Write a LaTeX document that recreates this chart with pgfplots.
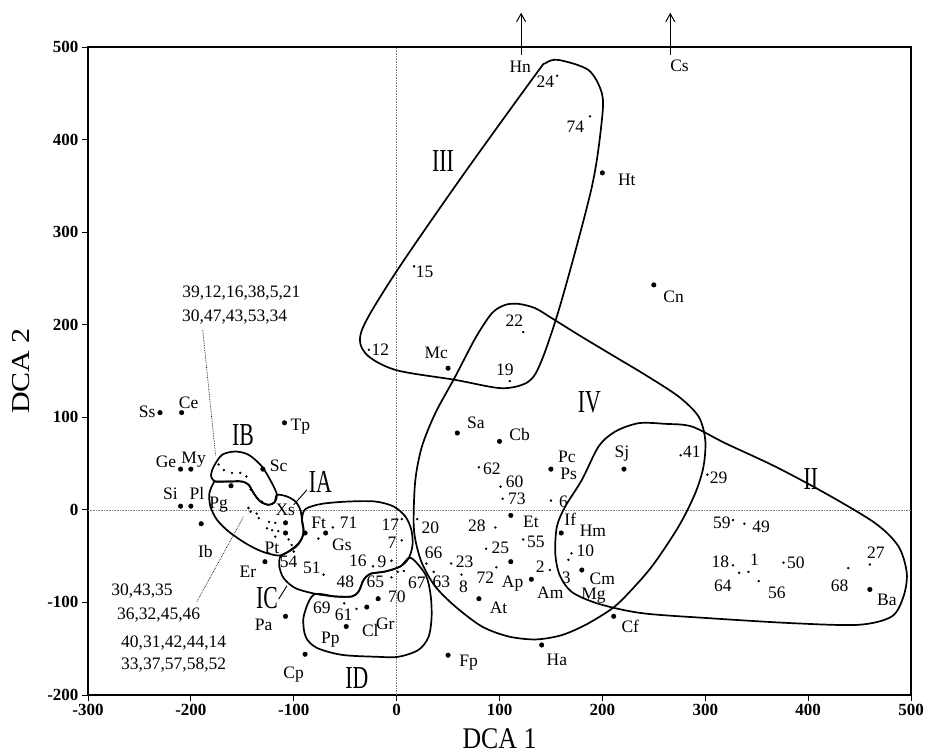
\documentclass[border=0pt]{standalone}
\usepackage{fontspec}
\setmainfont{Liberation Serif}
\usepackage{pgfplots}
\pgfplotsset{compat=1.18}
\usetikzlibrary{arrows.meta}
\newcommand{\lf}{\fontsize{17.5}{18}\selectfont}
\newcommand{\rf}{\fontsize{32}{32}\selectfont}
\newcommand{\lab}[3]{\node[font=\lf,inner sep=0pt] at (axis cs:#1,#2) {#3};}
\newcommand{\rom}[3]{\node[font=\rf,inner sep=0pt,xscale=0.68] at (axis cs:#1,#2) {#3};}
\begin{document}
\begin{tikzpicture}
\begin{axis}[
 scale only axis, width=823pt, height=648pt,
 xmin=-300, xmax=500, ymin=-200, ymax=500,
 xtick={-300,-200,...,500}, ytick={-200,-100,...,500},
 xtick pos=bottom, ytick pos=left, tick align=outside,
 major tick length=6pt,
 tick style={black, line width=0.9pt},
 axis line style={line width=1.1pt},
 /pgf/number format/assume math mode=true,
 ticklabel style={font=\fontsize{17}{17}\selectfont\bfseries},
 clip=false,
]
% zero lines
\addplot[densely dotted, line width=0.6pt, gray] coordinates {(0,-200) (0,500)};
\addplot[densely dotted, line width=0.6pt, gray] coordinates {(-300,0) (500,0)};

% envelopes
\addplot[smooth cycle, line width=1.7pt, black] coordinates {
(157.4,486) (186.6,475) (199.5,450) (199.5,421) (189.8,349) (160.6,227) (141.2,162) (128.3,138.6) (102.3,131.4) (57,140.4) (-1.3,151.2) (-30.4,169.2) (-33.7,194.4) (-1.3,255.6) (63.5,360) (134.8,469.8) (144.5,482.4)};
\addplot[smooth cycle, line width=1.7pt, black] coordinates {
(92.6,212.4) (105.6,221.4) (118.6,222.5) (134.8,217.8) (150.9,207.0) (176.9,189.0) (209.2,167.4) (241.7,145.8) (274.1,122.4) (293.5,100.8) (300.0,75.6) (298.3,46.8) (290.3,18.0) (274.1,-18.0) (248.1,-61.2) (222.3,-93.6) (207.7,-108.0) (183.4,-124.4) (160,-135.5) (135,-140) (108.8,-136.8) (82.9,-126.0) (57.0,-104.4) (37.6,-82.8) (24.6,-57.6) (18.2,-32.4) (16.5,-10.8) (18.2,32.4) (24.6,68.4) (37.6,104.4) (57.0,144.0) (76.5,185.4)};
\addplot[smooth cycle, line width=1.7pt, black] coordinates {
(180.1,32.4) (196.3,68.4) (212.5,84.6) (235.2,93.6) (261.1,92.9) (287.0,90.0) (319.4,72.0) (368.0,46.8) (416.6,18.0) (465.2,-14.4) (487.9,-39.6) (495.9,-68.4) (492.7,-93.6) (481.3,-115.2) (449.0,-124.2) (384.2,-122.4) (303.2,-117.0) (238.4,-111.6) (196.3,-101.5) (170.1,-88.6) (158.4,-70.2) (154.2,-46.8) (155.8,-18.0) (163.9,3.6)};
\addplot[smooth cycle, line width=1.7pt, black] coordinates {
(-180.1,39.6) (-177.8,46.8) (-169.8,59.4) (-156.8,63.0) (-143.8,59.4) (-130.9,46.8) (-121.2,28.8) (-116.3,16.2) (-118.6,8.3) (-124.4,5.4) (-132.5,9.0) (-139.0,18.0) (-143.8,27.0) (-150.3,30.6) (-163.3,30.6) (-176.2,30.6) (-180.1,35.3)};
\addplot[smooth cycle, line width=1.7pt, black] coordinates {
(-177.8,29.5) (-182.0,18.0) (-181.0,3.6) (-174.6,-10.8) (-163.3,-23.4) (-147.0,-36.0) (-130.9,-45.0) (-114.7,-49.4) (-105.0,-45.0) (-96.9,-38.9) (-92.0,-30.6) (-90.4,-21.6) (-92.0,-10.8) (-93.6,0) (-98.4,9.0) (-106.6,14.4) (-116.3,16.2) (-118.6,8.3) (-124.4,5.4) (-132.5,9.0) (-139.0,18.0) (-143.8,27.0) (-150.3,30.6) (-163.3,30.6) (-176.2,30.6)};
\addplot[smooth cycle, line width=1.7pt, black] coordinates {
(-113.0,-50.4) (-114.0,-61.2) (-109.8,-73.8) (-98.4,-84.6) (-79.0,-90.7) (-59.6,-93.6) (-43.4,-93.6) (-36.9,-88.2) (-32.1,-75.6) (-25.6,-69.1) (-11.0,-66.6) (3.6,-61.2) (11.7,-52.2) (15.5,-37.8) (14.3,-21.6) (8.5,-7.2) (-2.9,3.6) (-20.7,9.0) (-46.6,9.0) (-72.6,6.5) (-88.7,0.8) (-92.0,-10.8) (-90.4,-25.2) (-95.2,-36.0) (-105.0,-45.0)};
\addplot[smooth cycle, line width=1.7pt, black] coordinates {
(-80.7,-91.8) (-90.4,-115.6) (-88.4,-137.1) (-77.7,-149.0) (-53.4,-156.6) (-20.4,-158.7) (1.9,-158.7) (21.4,-151.2) (31.1,-137.1) (34.0,-115.6) (33.0,-91.8) (28.2,-70.2) (13.6,-51.8) (3.6,-61.2) (-11.0,-66.6) (-25.6,-69.1) (-32.1,-75.6) (-36.9,-88.2) (-43.7,-93.6) (-59.6,-93.6)};

% leader lines
\addplot[densely dotted, line width=0.7pt] coordinates {(-188.5,194.4) (-176,59)};
\addplot[densely dotted, line width=0.7pt] coordinates {(-194.1,-99.0) (-148.7,-7.2)};
\addplot[line width=0.9pt] coordinates {(-87.2,21.6) (-100.1,5.4)};
\addplot[line width=0.9pt] coordinates {(-106.6,-82.1) (-114.7,-96.4)};

% arrows for off-scale species
\addplot[line width=1pt, -{Straight Barb[length=8pt,width=9pt]}] coordinates {(121,491) (121,537)};
\addplot[line width=1pt, -{Straight Barb[length=8pt,width=9pt]}] coordinates {(266,491) (266,537)};

% species (stars)
\addplot[only marks, mark=*, mark size=2.3pt, black] coordinates {
(-230,105) (-209,105) (-109,94) (-210,44) (-200,44) (-130,44) (-210,4) (-200,4) (-161,26) (-190,-15)
(-108,-14) (-108,-25) (-89,-25) (-69,-25) (-128,-56) (-108,-115) (-89,-156) (-49,-126) (-29,-105) (-18,-96)
(50,-157) (141,-146) (80,-96) (111,-56) (131,-75) (180,-65) (211,-115) (160,-25) (111,-6) (150,44)
(59,83) (100,74) (50,153) (221,44) (460,-86) (200,364) (250,243)};

% samples (dots)
\addplot[only marks, mark=*, mark size=1pt, black] coordinates {
(156,469) (188,425) (17,263) (-27,173) (123,192) (110,139) (80,46) (101,25) (103,12) (150,10)
(96,-19) (123,-32) (87,-42) (53,-58) (97,-62) (63,-70) (149,-65) (170,-47) (167,-54)
(20,-10) (5,-10) (5,-33) (-23,-61) (-5,-55) (29,-58) (36,-67) (7,-66) (1,-67) (-5,-73)
(-51,-101) (-39,-107) (-71,-70) (-62,-19) (-76,-31)
(327,-11) (338,-15) (276,59) (302,38) (327,-60) (333,-68) (342,-67) (352,-77) (376,-57) (439,-63) (460,-59)
(-173,49) (-168,43) (-160,40) (-152,40) (-146,36) (-155,31) (-142,22) (-131,9) (-144,2) (-142,-2) (-136,-4)
(-134,-9) (-124,-13) (-118,-14) (-126,-20) (-121,-22) (-115,-23) (-118,-29) (-105,-32) (-102,-38) (-100,-45)};

% labels
\lab{-242.6}{106.2}{Ss}
\lab{-202.1}{115.2}{Ce}
\lab{-93.6}{90.0}{Tp}
\lab{-224.2}{52.2}{Ge}
\lab{-197.3}{54.0}{My}
\lab{-114.7}{47.5}{Sc}
\lab{-219.9}{17.3}{Si}
\lab{-194.1}{18.0}{Pl}
\lab{-173.0}{5.4}{Pg}
\lab{-108.2}{0}{Xs}
\lab{-75.8}{-14.4}{Ft}
\lab{-46.6}{-14.4}{71}
\lab{-6.1}{-16.2}{17}
\lab{-53.2}{-37.8}{Gs}
\lab{-4.6}{-36.0}{7}
\lab{-185.9}{-45.0}{Ib}
\lab{-121.2}{-41.4}{Pt}
\lab{-37.6}{-54.8}{16}
\lab{-14.3}{-55.8}{9}
\lab{-105.0}{-55.8}{54}
\lab{-82.3}{-63.0}{51}
\lab{-144.5}{-66.6}{Er}
\lab{-49.9}{-77.4}{48}
\lab{-20.7}{-77.4}{65}
\lab{0.3}{-93.6}{70}
\lab{-72.6}{-106.2}{69}
\lab{-51.5}{-113.4}{61}
\lab{-129.3}{-124.2}{Pa}
\lab{-25.6}{-130.3}{Cl}
\lab{-11.0}{-123.1}{Gr}
\lab{-64.4}{-140.4}{Pp}
\lab{-100.1}{-178.2}{Cp}
\lab{-247.5}{-87.5}{30,43,35}
\lab{-231.3}{-113.4}{36,32,45,46}
\lab{-216.7}{-144.0}{40,31,42,44,14}
\lab{-216.7}{-167.4}{33,37,57,58,52}
\lab{-150.9}{234.7}{39,12,16,38,5,21}
\lab{-157.4}{208.1}{30,47,43,53,34}
\lab{114.5}{204.4}{22}
\lab{38.5}{170}{Mc}
\lab{105.3}{151.2}{19}
\lab{-15.8}{173.5}{12}
\lab{27.2}{257.3}{15}
\lab{144.5}{462.5}{24}
\lab{173.7}{413.9}{74}
\lab{120.2}{478.7}{Hn}
\lab{275.0}{479.8}{Cs}
\lab{223.8}{356.4}{Ht}
\lab{269.2}{230.3}{Cn}
\lab{77.1}{93.6}{Sa}
\lab{119.5}{81.7}{Cb}
\lab{165.5}{57.5}{Pc}
\lab{167.2}{38.5}{Ps}
\lab{219.0}{61.2}{Sj}
\lab{92.6}{44.3}{62}
\lab{114.7}{30.6}{60}
\lab{116.9}{11.9}{73}
\lab{162.3}{9.0}{6}
\lab{32.7}{-19.1}{20}
\lab{78.0}{-16.9}{28}
\lab{130.5}{-13.3}{Et}
\lab{168.8}{-10.0}{If}
\lab{190.8}{-22.3}{Hm}
\lab{135.4}{-34.2}{55}
\lab{100.8}{-41.4}{25}
\lab{183.4}{-43.9}{10}
\lab{36.0}{-46.8}{66}
\lab{66.1}{-55.8}{23}
\lab{139.6}{-61.9}{2}
\lab{43.4}{-77.4}{63}
\lab{19.7}{-79.2}{67}
\lab{86.2}{-73.8}{72}
\lab{65.1}{-82.8}{8}
\lab{112.7}{-79.9}{Ap}
\lab{164.9}{-73.8}{3}
\lab{200.0}{-74.0}{Cm}
\lab{191.4}{-93.0}{Mg}
\lab{149.4}{-89.3}{Am}
\lab{99.1}{-106.2}{At}
\lab{227.1}{-126.0}{Cf}
\lab{155.8}{-162.0}{Ha}
\lab{70.0}{-164.9}{Fp}
\lab{287.0}{63.0}{41}
\lab{312.9}{34.2}{29}
\lab{316.1}{-13.7}{59}
\lab{354.4}{-18.7}{49}
\lab{314.6}{-55.8}{18}
\lab{347.9}{-54.0}{1}
\lab{388.0}{-56.9}{50}
\lab{317.1}{-82.1}{64}
\lab{369.6}{-90.0}{56}
\lab{430.5}{-82.1}{68}
\lab{465.8}{-46.8}{27}
\lab{476.5}{-97.2}{Ba}

\rom{-149.4}{81.0}{IB}
\rom{-74.2}{30.6}{IA}
\rom{-126.0}{-95.4}{IC}
\rom{-38.6}{-181.7}{ID}
\rom{45.0}{376.9}{III}
\rom{187.3}{115.9}{IV}
\rom{402.6}{33.1}{II}

\node[font=\fontsize{30}{30}\selectfont, xscale=0.86] at (axis cs:100,-247) {DCA 1};
\node[font=\fontsize{30}{30}\selectfont, xscale=0.86, rotate=90] at (axis cs:-365,150) {DCA 2};

\coordinate (bl) at (axis cs:-300,-200);
\coordinate (tr) at (axis cs:500,500);
\end{axis}
\pgfresetboundingbox
\path[use as bounding box] ([shift={(-88pt,-60pt)}]bl) rectangle ([shift={(18pt,47pt)}]tr);
\end{tikzpicture}
\end{document}
